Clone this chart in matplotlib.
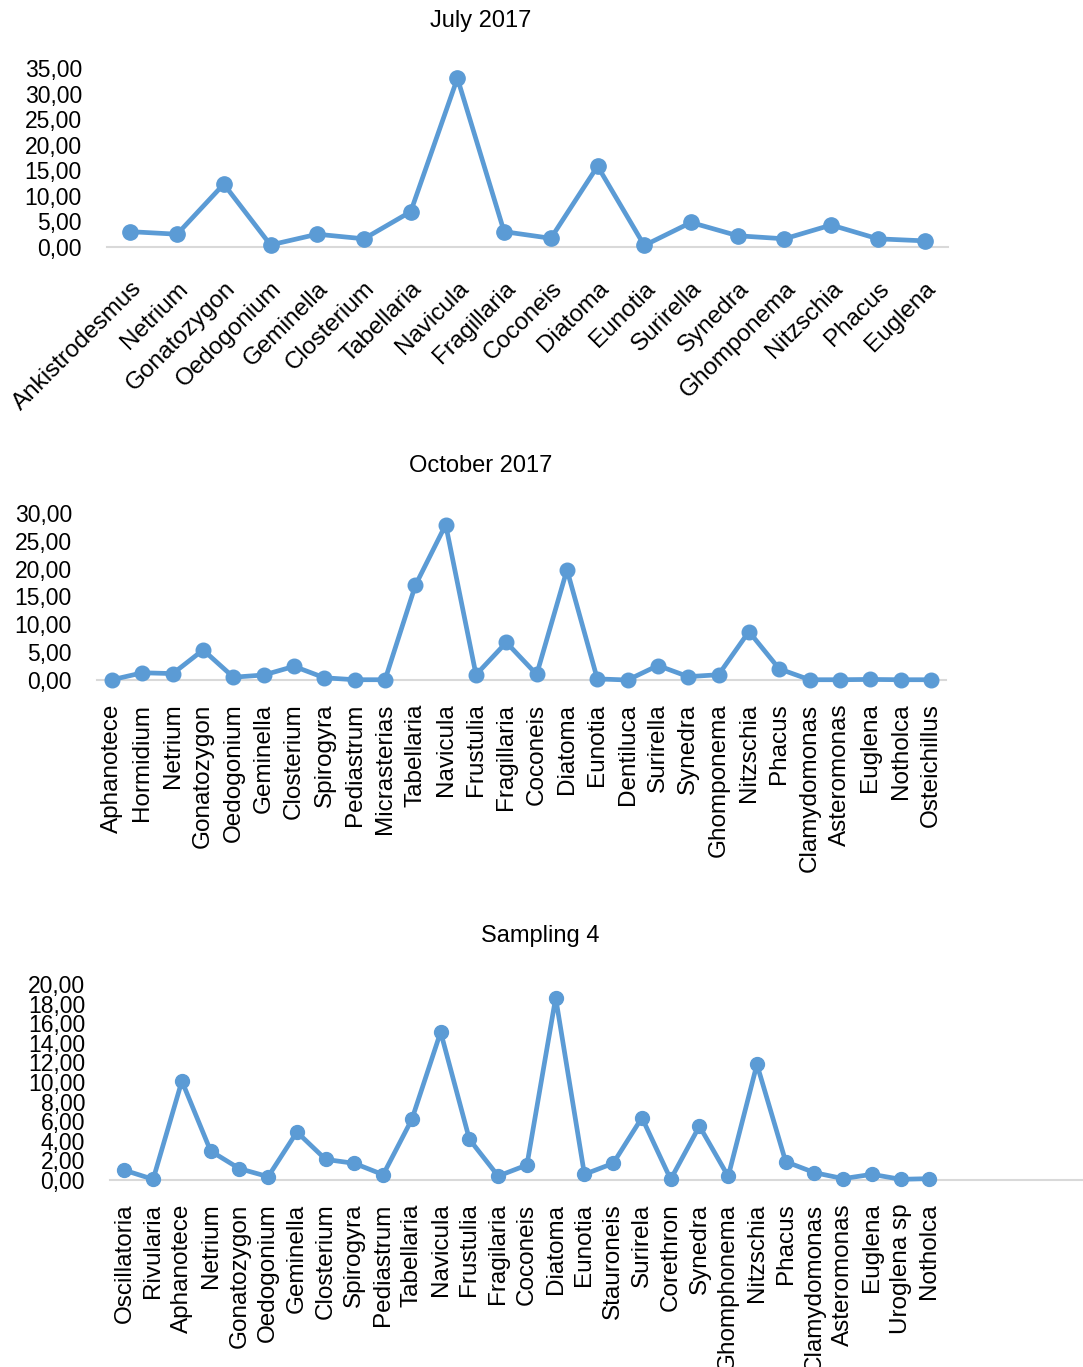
import numpy as np
import matplotlib
matplotlib.use('Agg')
import matplotlib.pyplot as plt
from matplotlib.ticker import FuncFormatter

plt.rcParams['font.family'] = ['Liberation Sans', 'DejaVu Sans']

BLUE = '#5B9BD5'
GREY = '#D9D9D9'

# July 2017
july_taxa = ['Ankistrodesmus', 'Netrium', 'Gonatozygon', 'Oedogonium', 'Geminella',
             'Closterium', 'Tabellaria', 'Navicula', 'Fragillaria', 'Coconeis',
             'Diatoma', 'Eunotia', 'Surirella', 'Synedra', 'Ghomponema',
             'Nitzschia', 'Phacus', 'Euglena']
july_vals = [3.0, 2.5, 12.3, 0.4, 2.5, 1.6, 6.9, 33.0, 3.0, 1.7,
             15.8, 0.3, 4.8, 2.2, 1.6, 4.3, 1.6, 1.2]

# October 2017
oct_taxa = ['Aphanotece', 'Hormidium', 'Netrium', 'Gonatozygon', 'Oedogonium',
            'Geminella', 'Closterium', 'Spirogyra', 'Pediastrum', 'Micrasterias',
            'Tabellaria', 'Navicula', 'Frustulia', 'Fragillaria', 'Coconeis',
            'Diatoma', 'Eunotia', 'Dentiluca', 'Surirella', 'Synedra',
            'Ghomponema', 'Nitzschia', 'Phacus', 'Clamydomonas', 'Asteromonas',
            'Euglena', 'Notholca', 'Osteichillus']
oct_vals = [0.05, 1.3, 1.15, 5.4, 0.5, 0.9, 2.45, 0.4, 0.05, 0.05,
            17.0, 27.9, 0.95, 6.75, 1.0, 19.8, 0.2, 0.0, 2.6, 0.6,
            0.95, 8.7, 2.0, 0.05, 0.05, 0.1, 0.05, 0.05]

# Sampling 4
s4_taxa = ['Oscillatoria', 'Rivularia', 'Aphanotece', 'Netrium', 'Gonatozygon',
           'Oedogonium', 'Geminella', 'Closterium', 'Spirogyra', 'Pediastrum',
           'Tabellaria', 'Navicula', 'Frustulia', 'Fragilaria', 'Coconeis',
           'Diatoma', 'Eunotia', 'Stauroneis', 'Surirela', 'Corethron',
           'Synedra', 'Ghomphonema', 'Nitzschia', 'Phacus', 'Clamydomonas',
           'Asteromonas', 'Euglena', 'Uroglena sp', 'Notholca']
s4_vals = [1.0, 0.07, 10.1, 2.96, 1.16, 0.34, 4.9, 2.1, 1.7, 0.54,
           6.2, 15.1, 4.15, 0.4, 1.53, 18.6, 0.58, 1.7, 6.36, 0.07,
           5.5, 0.37, 11.8, 1.87, 0.75, 0.14, 0.58, 0.07, 0.14]

W, H = 1083, 1367
fig = plt.figure(figsize=(W / 100, H / 100), dpi=100)


def px_axes(x0, x1, y_top, y_bot):
    return fig.add_axes([x0 / W, 1 - y_bot / H, (x1 - x0) / W, (y_bot - y_top) / H])


comma = FuncFormatter(lambda v, p: f'{v:.2f}'.replace('.', ','))


def panel(ax, taxa, vals, ymax, step, xmax, rot, ms):
    x = np.arange(len(taxa))
    ax.plot(x, vals, color=BLUE, lw=3.4, marker='o', ms=ms, clip_on=False, zorder=3)
    ax.set_ylim(0, ymax)
    ax.set_xlim(-0.5, xmax)
    ax.set_yticks(np.arange(0, ymax + 0.01, step))
    ax.yaxis.set_major_formatter(comma)
    ax.set_xticks(x)
    for s in ['top', 'right', 'left']:
        ax.spines[s].set_visible(False)
    ax.spines['bottom'].set_color(GREY)
    ax.spines['bottom'].set_linewidth(1.5)
    ax.spines['bottom'].set_zorder(1)
    ax.tick_params(axis='both', length=0)
    ax.tick_params(axis='y', pad=18, labelsize=16.5)
    ax.tick_params(axis='x', labelsize=17.5)
    if rot == 45:
        ax.set_xticklabels(taxa, rotation=45, ha='right', rotation_mode='anchor')
        ax.tick_params(axis='x', pad=22)
    else:
        ax.set_xticklabels(taxa, rotation=90, va='top', ha='center')
        ax.tick_params(axis='x', pad=17)


ax1 = px_axes(107, 948, 68, 247)
panel(ax1, july_taxa, july_vals, 35, 5, len(july_taxa) - 0.5, 45, 11)
fig.text(481 / W, 1 - 21 / H, 'July 2017', ha='center', va='center', fontsize=17)

ax2 = px_axes(97, 946, 513, 680)
panel(ax2, oct_taxa, oct_vals, 30, 5, len(oct_taxa) - 0.5, 90, 10.5)
fig.text(481 / W, 1 - 466 / H, 'October 2017', ha='center', va='center', fontsize=17)

ax3 = px_axes(110, 1083, 984, 1180)
panel(ax3, s4_taxa, s4_vals, 20, 2, 33.34, 90, 10)
fig.text(540 / W, 1 - 936 / H, 'Sampling 4', ha='center', va='center', fontsize=17)

fig.savefig('out.png', dpi=100)
